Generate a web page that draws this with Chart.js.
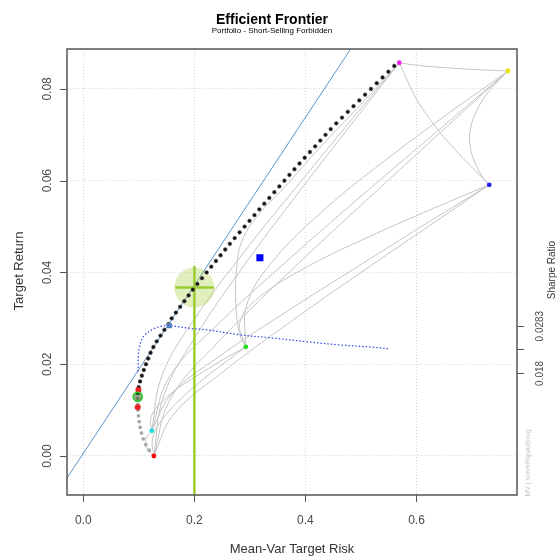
<!DOCTYPE html>
<html>
<head>
<meta charset="utf-8">
<script src="https://cdn.jsdelivr.net/npm/chart.js@4.4.0/dist/chart.umd.min.js"></script>
<style>
  html, body { margin: 0; padding: 0; background: #fff; }
  #wrap { width: 559px; height: 558px; }
</style>
</head>
<body>
<div id="wrap"><canvas id="frontierChart" width="559" height="558"></canvas></div>
<script>
// frontier points: target return and mean-var risk
const frontierReturn = [
  0.00000, 0.00125, 0.00250, 0.00375, 0.00500, 0.00625, 0.00750, 0.00875, 0.01000, 0.01125,
  0.01250, 0.01375, 0.01500, 0.01625, 0.01750, 0.01875, 0.02000, 0.02125, 0.02250, 0.02375,
  0.02500, 0.02625, 0.02750, 0.02875, 0.03000, 0.03125, 0.03250, 0.03375, 0.03500, 0.03625,
  0.03750, 0.03875, 0.04000, 0.04125, 0.04250, 0.04375, 0.04500, 0.04625, 0.04750, 0.04875,
  0.05000, 0.05125, 0.05250, 0.05375, 0.05500, 0.05625, 0.05750, 0.05875, 0.06000, 0.06125,
  0.06250, 0.06375, 0.06500, 0.06625, 0.06750, 0.06875, 0.07000, 0.07125, 0.07250, 0.07375,
  0.07500, 0.07625, 0.07750, 0.07875, 0.08000, 0.08125, 0.08250, 0.08375, 0.08500
];
const frontierRisk = [
  0.1270, 0.1185, 0.1125, 0.1080, 0.1047, 0.1023, 0.1005, 0.0993, 0.0985, 0.0980,
  0.0978, 0.0982, 0.0997, 0.1022, 0.1054, 0.1090, 0.1128, 0.1168, 0.1211, 0.1262,
  0.1322, 0.1390, 0.1460, 0.1532, 0.1591, 0.1667, 0.1743, 0.1820, 0.1896, 0.1972,
  0.2053, 0.2137, 0.2221, 0.2304, 0.2388, 0.2472, 0.2556, 0.2639, 0.2726, 0.2815,
  0.2904, 0.2992, 0.3081, 0.3170, 0.3259, 0.3349, 0.3440, 0.3530, 0.3621, 0.3711,
  0.3802, 0.3893, 0.3987, 0.4081, 0.4175, 0.4268, 0.4362, 0.4456, 0.4555, 0.4659,
  0.4763, 0.4866, 0.4970, 0.5074, 0.5179, 0.5284, 0.5389, 0.5494, 0.5599
];
const firstEfficient = 11; // below this the frontier is the inefficient branch

// single assets
const assetRisk = [0.1270, 0.7647, 0.2926, 0.1232, 0.7310, 0.5690];
const assetReturn = [0.0000, 0.0839, 0.0238, 0.0055, 0.0591, 0.0857];
const assetColors = ['#ff0000', '#e6e600', '#22dd22', '#22dddd', '#2222ee', '#ee22ee'];

// two-asset frontiers, one row per pair
const twoAssetRisk = [
  [0.1270, 0.1164, 0.1119, 0.1143, 0.1232],
  [0.1270, 0.1244, 0.1369, 0.1707, 0.2157, 0.2532, 0.2926],
  [0.1270, 0.1614, 0.2447, 0.3772, 0.5169, 0.6235, 0.7310],
  [0.1270, 0.1442, 0.2002, 0.2976, 0.4039, 0.4859, 0.5690],
  [0.1270, 0.1575, 0.2460, 0.3876, 0.5366, 0.6503, 0.7647],
  [0.1232, 0.1214, 0.1348, 0.1697, 0.2153, 0.2531, 0.2926],
  [0.1232, 0.1590, 0.2435, 0.3767, 0.5167, 0.6235, 0.7310],
  [0.1232, 0.1416, 0.1988, 0.2971, 0.4037, 0.4858, 0.5690],
  [0.1232, 0.1553, 0.2451, 0.3873, 0.5366, 0.6503, 0.7647],
  [0.2926, 0.2817, 0.3147, 0.4070, 0.5278, 0.6273, 0.7310],
  [0.2926, 0.2810, 0.2745, 0.2765, 0.2860, 0.3150, 0.3620, 0.4250, 0.4980, 0.5690],
  [0.2926, 0.2940, 0.3367, 0.4359, 0.5595, 0.6602, 0.7647],
  [0.7310, 0.6669, 0.6305, 0.6004, 0.5690],
  [0.7310, 0.7207, 0.7058, 0.6968, 0.6968, 0.7088, 0.7328, 0.7647],
  [0.5690, 0.5979, 0.6334, 0.6796, 0.7647]
];
const twoAssetReturn = [
  [0.0000, 0.0014, 0.00275, 0.0041, 0.0055],
  [0.0000, 0.0036, 0.0071, 0.0119, 0.0167, 0.0202, 0.0238],
  [0.0000, 0.0089, 0.0177, 0.0296, 0.0414, 0.0502, 0.0591],
  [0.0000, 0.0129, 0.0257, 0.0429, 0.0600, 0.0728, 0.0857],
  [0.0000, 0.0126, 0.0252, 0.0420, 0.0587, 0.0713, 0.0839],
  [0.0055, 0.0082, 0.0110, 0.0147, 0.0183, 0.0211, 0.0238],
  [0.0055, 0.0135, 0.0216, 0.0323, 0.0430, 0.0511, 0.0591],
  [0.0055, 0.0175, 0.0296, 0.0456, 0.0616, 0.0737, 0.0857],
  [0.0055, 0.0173, 0.0290, 0.0447, 0.0604, 0.0721, 0.0839],
  [0.0238, 0.0291, 0.0344, 0.0415, 0.0485, 0.0538, 0.0591],
  [0.0238, 0.0267, 0.0340, 0.0413, 0.0470, 0.0525, 0.0585, 0.0671, 0.0764, 0.0857],
  [0.0238, 0.0328, 0.0418, 0.0539, 0.0659, 0.0749, 0.0839],
  [0.0591, 0.0671, 0.0724, 0.0777, 0.0857],
  [0.0591, 0.0605, 0.0638, 0.0674, 0.0711, 0.0754, 0.0798, 0.0839],
  [0.0857, 0.0852, 0.0848, 0.0844, 0.0839]
];

// capital market line
const cmlRisk = [-0.06, 0.50];
const cmlReturn = [-0.0104, 0.0921];

// sharpe ratio along the frontier (drawn on the return scale)
const sharpeRisk = [0.0986, 0.0991, 0.1013, 0.1081, 0.1232, 0.1413, 0.1562, 0.1923, 0.2223, 0.2823, 0.3423, 0.4025, 0.4625, 0.5225, 0.5526];
const sharpeValue = [0.0184, 0.0216, 0.0238, 0.0260, 0.0275, 0.0283, 0.0284, 0.0278, 0.0275, 0.0264, 0.0257, 0.0249, 0.0242, 0.0237, 0.0233];
const sharpeTicks = [0.0283, 0.0233, 0.018];
const sharpeTickLabels = ['0.0283', '', '0.018'];
const tangencyRisk = [0.155];
const tangencySharpe = [0.0284];

// special portfolios
const minVarRisk = [0.0980, 0.0991];
const minVarReturn = [0.0106, 0.0144];
const ringRisk = [0.0980];
const ringReturn = [0.0129];
const equalWeightRisk = [0.318];
const equalWeightReturn = [0.0432];

// target risk marker
const targetRisk = [0.2];
const targetReturn = [0.0367];
const targetBar = [0.1654, 0.2355];
const targetTop = 0.0414;

// axes
const xRange = [-0.0294, 0.781];
const yRange = [-0.0085, 0.0887];
const xTicks = [0, 0.2, 0.4, 0.6];
const xTickLabels = ['0.0', '0.2', '0.4', '0.6'];
const yTicks = [0, 0.02, 0.04, 0.06, 0.08];
const yTickLabels = ['0.00', '0.02', '0.04', '0.06', '0.08'];

const FONT = '"Liberation Sans", Arial, sans-serif';
const pts = (xs, ys) => xs.map((v, i) => ({x: v, y: ys[i]}));

const datasets = [];

twoAssetRisk.forEach((row, i) => {
  datasets.push({
    data: pts(row, twoAssetReturn[i]),
    showLine: true, borderColor: '#c4c4c4', borderWidth: 1,
    tension: 0.4, pointRadius: 0, order: 20
  });
});

datasets.push({
  data: pts(cmlRisk, cmlReturn),
  showLine: true, borderColor: '#5b93c8', borderWidth: 1,
  pointRadius: 0, order: 18
});

// target risk: halo, vertical line and short horizontal bar
datasets.push({
  data: pts(targetRisk, targetReturn),
  pointRadius: 20, pointBackgroundColor: 'rgba(170, 210, 70, 0.35)',
  pointBorderWidth: 0, order: 17
});
datasets.push({
  data: [{x: targetRisk[0], y: yRange[0] - 0.01}, {x: targetRisk[0], y: targetTop}],
  showLine: true, borderColor: '#9acd32', borderWidth: 2.5, pointRadius: 0, order: 16
});
datasets.push({
  data: [{x: targetBar[0], y: targetReturn[0]}, {x: targetBar[1], y: targetReturn[0]}],
  showLine: true, borderColor: '#9acd32', borderWidth: 2.5, pointRadius: 0, order: 16
});

datasets.push({
  data: pts(sharpeRisk, sharpeValue),
  showLine: true, borderColor: '#3344ee', borderWidth: 1.2, borderDash: [1.5, 2],
  tension: 0.35, pointRadius: 0, order: 15
});

datasets.push({
  data: pts(frontierRisk.slice(0, firstEfficient + 1), frontierReturn.slice(0, firstEfficient + 1)),
  pointRadius: 1.9, pointBackgroundColor: '#a8a8a8', pointBorderWidth: 0, order: 12
});
datasets.push({
  data: pts(frontierRisk.slice(firstEfficient), frontierReturn.slice(firstEfficient)),
  pointRadius: 1.9, pointBackgroundColor: '#111111', pointBorderColor: '#666', pointBorderWidth: 0.5, order: 11
});

datasets.push({
  data: pts(tangencyRisk, tangencySharpe),
  pointStyle: 'rect', pointRadius: 3.6, pointBackgroundColor: '#4f7fc0', pointBorderWidth: 0, order: 5
});
datasets.push({
  data: pts(equalWeightRisk, equalWeightReturn),
  pointStyle: 'rect', pointRadius: 5, pointBackgroundColor: '#0000ff', pointBorderWidth: 0, order: 5
});
datasets.push({
  data: pts(assetRisk, assetReturn),
  pointRadius: 2.4, pointBackgroundColor: assetColors, pointBorderWidth: 0, order: 4
});
datasets.push({
  data: pts(minVarRisk, minVarReturn),
  pointRadius: 3, pointBackgroundColor: '#ee2222', pointBorderWidth: 0, order: 3
});
datasets.push({
  data: pts(ringRisk, ringReturn),
  pointRadius: 4.5, pointBackgroundColor: 'rgba(40, 80, 20, 0.5)', pointBorderColor: '#22cc22',
  pointBorderWidth: 1.6, order: 2
});

// box, ticks, labels and titles
const framePlugin = {
  id: 'frame',
  afterDraw(chart) {
    const {ctx, chartArea: a, scales: {x, y}} = chart;
    ctx.save();

    ctx.strokeStyle = '#555';
    ctx.lineWidth = 1.5;
    ctx.strokeRect(a.left, a.top, a.right - a.left, a.bottom - a.top);

    ctx.lineWidth = 1;
    ctx.beginPath();
    xTicks.forEach(v => {
      const px = Math.round(x.getPixelForValue(v)) + 0.5;
      ctx.moveTo(px, a.bottom); ctx.lineTo(px, a.bottom + 7);
    });
    yTicks.concat(sharpeTicks).forEach((v, i) => {
      const py = Math.round(y.getPixelForValue(v)) + 0.5;
      if (i < yTicks.length) { ctx.moveTo(a.left, py); ctx.lineTo(a.left - 7, py); }
      else { ctx.moveTo(a.right, py); ctx.lineTo(a.right + 7, py); }
    });
    ctx.stroke();

    const vtext = (txt, cx, cy) => {
      ctx.save();
      ctx.translate(cx, cy);
      ctx.rotate(-Math.PI / 2);
      ctx.fillText(txt, 0, 0);
      ctx.restore();
    };

    ctx.textAlign = 'center';
    ctx.textBaseline = 'middle';
    ctx.fillStyle = '#4a4a4a';
    ctx.font = '12px ' + FONT;
    xTicks.forEach((v, i) => ctx.fillText(xTickLabels[i], x.getPixelForValue(v), 521));
    yTicks.forEach((v, i) => vtext(yTickLabels[i], 47.5, y.getPixelForValue(v)));

    ctx.font = '10px ' + FONT;
    sharpeTicks.forEach((v, i) => {
      if (sharpeTickLabels[i]) vtext(sharpeTickLabels[i], 540, y.getPixelForValue(v));
    });
    ctx.fillStyle = '#333';
    vtext('Sharpe Ratio', 552, 270);

    ctx.fillStyle = '#c8c8c8';
    ctx.font = '7px ' + FONT;
    vtext('MV | solveRquadprog', 528, 463);

    ctx.fillStyle = '#333';
    ctx.font = '13px ' + FONT;
    ctx.fillText('Mean-Var Target Risk', (a.left + a.right) / 2, 549);
    vtext('Target Return', 19, 271);

    ctx.fillStyle = '#000';
    ctx.font = 'bold 14px ' + FONT;
    ctx.fillText('Efficient Frontier', 272, 20);
    ctx.font = '8px ' + FONT;
    ctx.fillText('Portfolio - Short-Selling Forbidden', 272, 31);

    ctx.restore();
  }
};

const gridStyle = {color: '#d6d6d6', lineWidth: 1, drawTicks: false};

new Chart(document.getElementById('frontierChart'), {
  type: 'scatter',
  data: {datasets: datasets},
  options: {
    responsive: false,
    animation: false,
    events: [],
    layout: {padding: {top: 49, right: 42, left: 0, bottom: 0}},
    plugins: {legend: {display: false}, tooltip: {enabled: false}, title: {display: false}},
    scales: {
      x: {
        type: 'linear', min: xRange[0], max: xRange[1],
        afterBuildTicks: s => { s.ticks = xTicks.map(v => ({value: v})); },
        afterFit: s => { s.height = 63; },
        ticks: {display: false},
        grid: gridStyle,
        border: {display: false, dash: [1, 2]}
      },
      y: {
        type: 'linear', min: yRange[0], max: yRange[1],
        afterBuildTicks: s => { s.ticks = yTicks.map(v => ({value: v})); },
        afterFit: s => { s.width = 67; },
        ticks: {display: false},
        grid: gridStyle,
        border: {display: false, dash: [1, 2]}
      }
    }
  },
  plugins: [framePlugin]
});
</script>
</body>
</html>
